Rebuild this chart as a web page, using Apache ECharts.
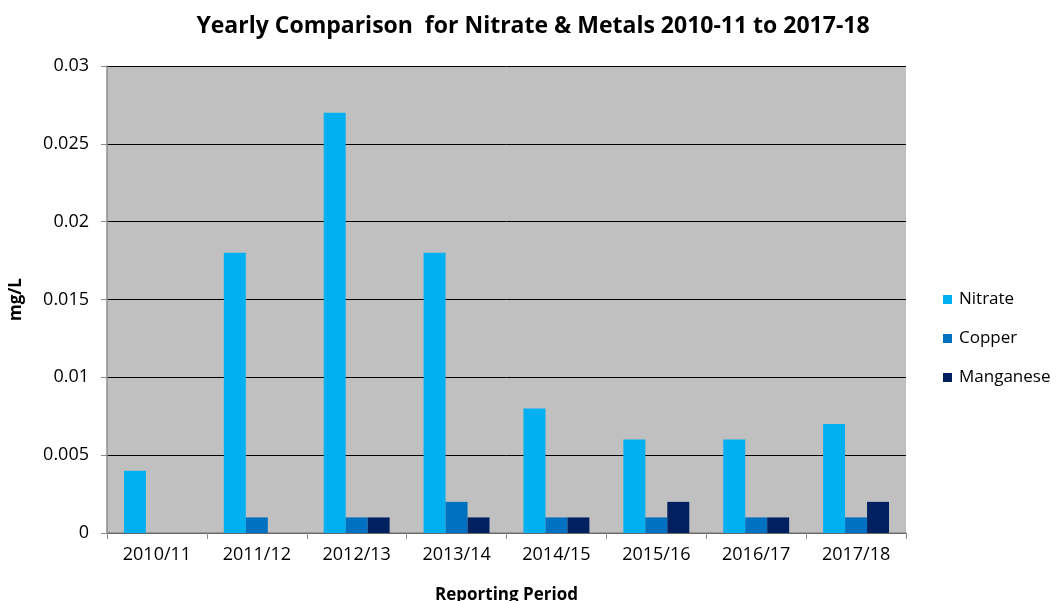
<!DOCTYPE html>
<html>
<head>
<meta charset="utf-8">
<script src="https://cdn.jsdelivr.net/npm/echarts@6/dist/echarts.min.js"></script>
<style>
  html, body { margin: 0; padding: 0; background: #fff; }
  #chart { width: 1061px; height: 601px; }
</style>
</head>
<body>
<div id="chart"></div>
<script>
const periods = ['2010/11', '2011/12', '2012/13', '2013/14', '2014/15', '2015/16', '2016/17', '2017/18'];
const nitrate = [0.004, 0.018, 0.027, 0.018, 0.008, 0.006, 0.006, 0.007];
const copper = [0, 0.001, 0.001, 0.002, 0.001, 0.001, 0.001, 0.001];
const manganese = [0, 0, 0.001, 0.001, 0.001, 0.002, 0.001, 0.002];

const FONT = '"Open Sans", Lato, sans-serif';

const chart = echarts.init(document.getElementById('chart'), null, { renderer: 'canvas' });

const barSeries = (name, data, color) => ({
  name,
  type: 'bar',
  data,
  barGap: '0%',
  barCategoryGap: '34%',
  itemStyle: { color },
});

chart.setOption({
  animation: false,
  backgroundColor: '#fff',
  textStyle: { fontFamily: FONT },
  title: {
    text: 'Yearly Comparison  for Nitrate & Metals 2010-11 to 2017-18',
    left: 528,
    textAlign: 'center',
    top: 10,
    textStyle: { fontFamily: FONT, fontSize: 23, fontWeight: 'bold', color: '#000' },
  },
  grid: {
    left: 107, right: 155, top: 66, bottom: 68,
    show: true, backgroundColor: '#C0C0C0', borderWidth: 0,
    outerBoundsMode: 'none',
    containLabel: false,
  },
  legend: {
    orient: 'vertical',
    left: 938,
    top: 286,
    itemGap: 22,
    itemWidth: 9,
    itemHeight: 9,
    icon: 'rect',
    textStyle: { fontFamily: FONT, fontSize: 17, color: '#000', padding: [0, 0, 0, 2] },
    data: ['Nitrate', 'Copper', 'Manganese'],
  },
  xAxis: {
    type: 'category',
    data: periods,
    name: 'Reporting Period',
    nameLocation: 'middle',
    nameGap: 54,
    nameTextStyle: { fontFamily: FONT, fontSize: 17, fontWeight: 'bold', color: '#000' },
    axisLine: { lineStyle: { color: '#8c8c8c', width: 1.5 } },
    axisTick: { show: true, alignWithLabel: false, length: 6, lineStyle: { color: '#8c8c8c' } },
    axisLabel: { fontFamily: FONT, fontSize: 18, color: '#000', margin: 13 },
  },
  yAxis: {
    type: 'value',
    min: 0,
    max: 0.03,
    interval: 0.005,
    name: 'mg/L',
    nameLocation: 'middle',
    nameGap: 82,
    nameRotate: 90,
    nameTextStyle: { fontFamily: FONT, fontSize: 17, fontWeight: 'bold', color: '#000' },
    axisLine: { show: true, lineStyle: { color: '#8c8c8c', width: 1.5 } },
    axisTick: { show: true, length: 6, inside: false, lineStyle: { color: '#8c8c8c' } },
    axisLabel: { fontFamily: FONT, fontSize: 18, color: '#000', margin: 18 },
    splitLine: { lineStyle: { color: '#000', width: 1 } },
  },
  series: [
    barSeries('Nitrate', nitrate, '#00B0F0'),
    barSeries('Copper', copper, '#0070C0'),
    barSeries('Manganese', manganese, '#002060'),
  ],
});
</script>
</body>
</html>
